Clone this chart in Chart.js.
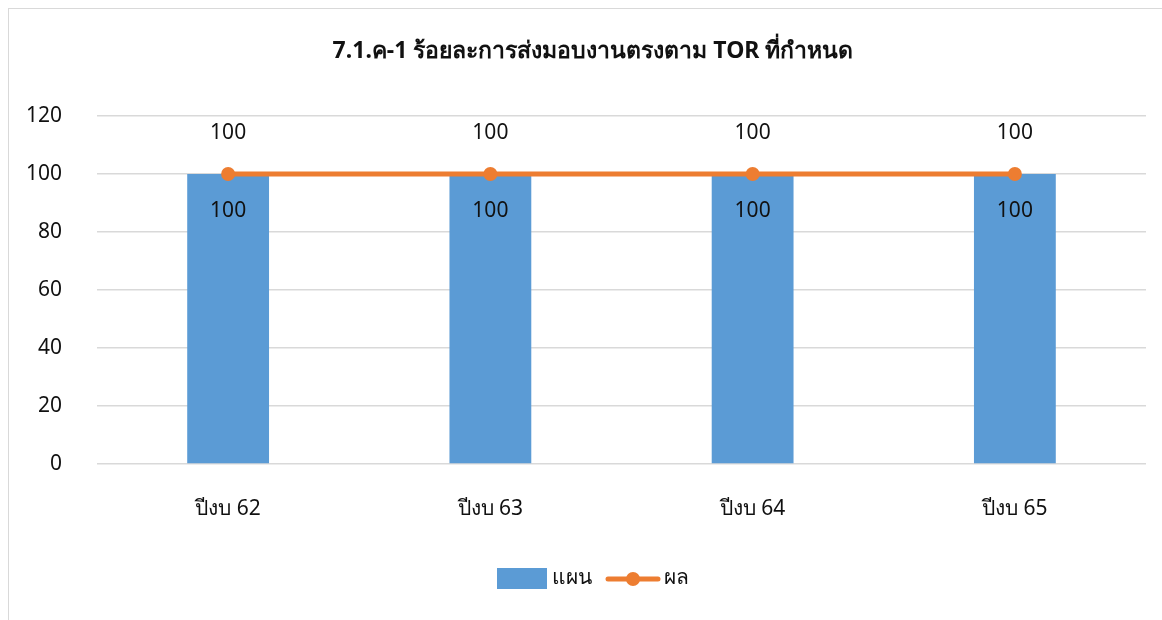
<!DOCTYPE html>
<html>
<head>
<meta charset="utf-8">
<script src="https://cdn.jsdelivr.net/npm/chart.js@4"></script>
<style>
  html, body { margin: 0; padding: 0; background: #fff; overflow: hidden; }
  #frame { position: absolute; left: 8px; top: 8px; width: 1200px; height: 700px; border: 1px solid #d9d9d9; }
  #wrap { position: absolute; left: 0; top: 0; width: 1186px; height: 620px; }
</style>
</head>
<body>
<div id="frame"></div>
<div id="wrap"><canvas id="graficoTOR"></canvas></div>
<script>
const chartTitle = '7.1.ค-1 ร้อยละการส่งมอบงานตรงตาม TOR ที่กำหนด';
const years = ['ปีงบ 62', 'ปีงบ 63', 'ปีงบ 64', 'ปีงบ 65'];
const planValues = [100, 100, 100, 100];
const resultValues = [100, 100, 100, 100];
const yMin = 0, yMax = 120, yStep = 20;

const FONT = "'Noto Sans', 'Open Sans', sans-serif";
const TEXT = '#111';

// title centred on the whole chart box (the frame), not on the plot
const titlePlugin = {
  id: 'frameTitle',
  afterDraw(chart) {
    const ctx = chart.ctx;
    ctx.save();
    ctx.font = 'bold 23px ' + FONT;
    ctx.fillStyle = TEXT;
    ctx.textAlign = 'center';
    ctx.textBaseline = 'middle';
    ctx.fillText(chartTitle, chart.width / 2, 51);
    ctx.restore();
  }
};

// labels "100" on bars and points
const valueLabels = {
  id: 'valueLabels',
  afterDatasetsDraw(chart) {
    const ctx = chart.ctx;
    ctx.save();
    ctx.font = '21px ' + FONT;
    ctx.fillStyle = TEXT;
    ctx.textAlign = 'center';
    ctx.textBaseline = 'middle';
    chart.data.datasets.forEach((ds, i) => {
      const meta = chart.getDatasetMeta(i);
      meta.data.forEach((el, j) => {
        const dy = ds.type === 'line' ? -41 : 37;
        ctx.fillText(String(ds.data[j]), el.x, el.y + dy);
      });
    });
    ctx.restore();
  }
};

// legend like excel: box for bars, line with marker for the line
const bottomLegend = {
  id: 'bottomLegend',
  afterDraw(chart) {
    const ctx = chart.ctx;
    const bar = chart.data.datasets[0];
    const line = chart.data.datasets[1];
    ctx.save();
    ctx.font = '21px ' + FONT;
    const w1 = ctx.measureText(bar.label).width;
    const w2 = ctx.measureText(line.label).width;
    const total = 50 + 5 + w1 + 14 + 54 + 4 + w2;
    const cx = chart.width / 2;
    const y = chart.height - 42;
    let x = cx - total / 2;
    ctx.fillStyle = bar.backgroundColor;
    ctx.fillRect(x, y - 10, 50, 21);
    x += 55;
    ctx.fillStyle = TEXT;
    ctx.textBaseline = 'middle';
    ctx.textAlign = 'left';
    ctx.fillText(bar.label, x, y);
    x += w1 + 14;
    ctx.strokeStyle = line.borderColor;
    ctx.lineWidth = line.borderWidth;
    ctx.lineCap = 'round';
    ctx.beginPath();
    ctx.moveTo(x + 2, y + 1);
    ctx.lineTo(x + 52, y + 1);
    ctx.stroke();
    ctx.fillStyle = line.pointBackgroundColor;
    ctx.beginPath();
    ctx.arc(x + 27, y + 1, line.pointRadius, 0, Math.PI * 2);
    ctx.fill();
    x += 58;
    ctx.fillStyle = TEXT;
    ctx.fillText(line.label, x, y);
    ctx.restore();
  }
};

const canvas = document.getElementById('graficoTOR');

new Chart(canvas, {
  data: {
    labels: years,
    datasets: [
      {
        type: 'bar',
        label: 'แผน',
        data: planValues,
        backgroundColor: '#5b9bd5',
        barPercentage: 1,
        categoryPercentage: 0.312,
        order: 2
      },
      {
        type: 'line',
        label: 'ผล',
        data: resultValues,
        borderColor: '#ed7d31',
        borderWidth: 5,
        pointRadius: 7,
        pointBackgroundColor: '#ed7d31',
        pointBorderWidth: 0,
        order: 1
      }
    ]
  },
  options: {
    responsive: true,
    maintainAspectRatio: false,
    animation: false,
    layout: { padding: { left: 0, right: 40, top: 116, bottom: 100 } },
    scales: {
      x: {
        grid: { display: false },
        border: { display: false },
        ticks: { font: { family: FONT, size: 21 }, color: TEXT, padding: 24 },
        afterFit(scale) { scale.height = 56; }
      },
      y: {
        min: yMin,
        max: yMax,
        grid: { color: '#d9d9d9', lineWidth: 1.5, drawTicks: false },
        border: { display: false },
        ticks: { stepSize: yStep, font: { family: FONT, size: 21 }, color: TEXT, padding: 35 },
        afterFit(scale) { scale.width = 97; }
      }
    },
    plugins: {
      legend: { display: false },
      tooltip: { enabled: false },
      title: { display: false }
    }
  },
  plugins: [valueLabels, bottomLegend, titlePlugin]
});
</script>
</body>
</html>
